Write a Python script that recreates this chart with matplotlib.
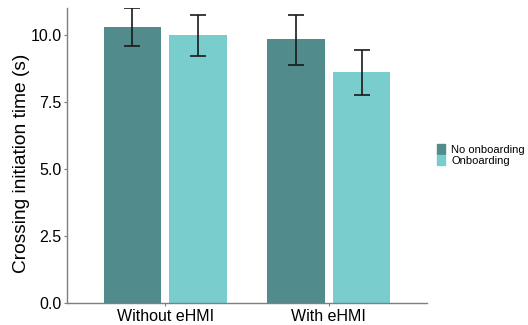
import matplotlib
matplotlib.use("Agg")
import matplotlib.pyplot as plt
import matplotlib.patches as mpatches
import numpy as np

plt.rcParams['font.family'] = ['Liberation Sans', 'DejaVu Sans']

conditions = ["Without eHMI", "With eHMI"]
groups = ["No onboarding", "Onboarding"]
means = {"No onboarding": [10.32, 9.85], "Onboarding": [9.99, 8.63]}
err_low = {"No onboarding": [9.60, 8.90], "Onboarding": [9.23, 7.78]}
err_high = {"No onboarding": [11.0, 10.76], "Onboarding": [10.76, 9.46]}
colors = {"No onboarding": "#528B8B", "Onboarding": "#79CDCD"}

fig = plt.figure(figsize=(5.28, 3.25), dpi=100)
ax = fig.add_axes([0.127, 0.0668, 0.6817, 0.9077])

x = np.arange(1, len(conditions) + 1)
offsets = [-0.2, 0.2]
for g, off in zip(groups, offsets):
    m = np.array(means[g])
    lo = m - np.array(err_low[g])
    hi = np.array(err_high[g]) - m
    ax.bar(x + off, m, width=0.35, color=colors[g], label=g, zorder=1)
    ax.errorbar(x + off, m, yerr=[lo, hi], fmt='none', ecolor='#1a1a1a',
                elinewidth=1.2, capsize=6, capthick=1.2, zorder=2)

ax.set_xlim(0.4, 2.6)
ax.set_ylim(0, 11.0)
ax.set_xticks(x)
ax.set_xticklabels(conditions)
ax.set_yticks([0, 2.5, 5.0, 7.5, 10.0])
ax.set_yticklabels(["0.0", "2.5", "5.0", "7.5", "10.0"])
ax.tick_params(labelsize=11.5, length=2, color='#7f7f7f', pad=2, labelcolor='black')
ax.set_ylabel("Crossing initiation time (s)", fontsize=13.8)
ax.yaxis.set_label_coords(-0.103, 0.476)

for s in ['top', 'right']:
    ax.spines[s].set_visible(False)
for s in ['left', 'bottom']:
    ax.spines[s].set_color('#7f7f7f')
    ax.spines[s].set_linewidth(1.0)

handles = [mpatches.Patch(color=colors[g], label=g) for g in groups]
fig.legend(handles=handles, loc='center left', bbox_to_anchor=(0.828, 0.523),
           frameon=False, fontsize=8, handlelength=0.7, handleheight=1.0,
           labelspacing=0.0, handletextpad=0.55, borderpad=0, borderaxespad=0)

fig.savefig("out.png", dpi=100)
